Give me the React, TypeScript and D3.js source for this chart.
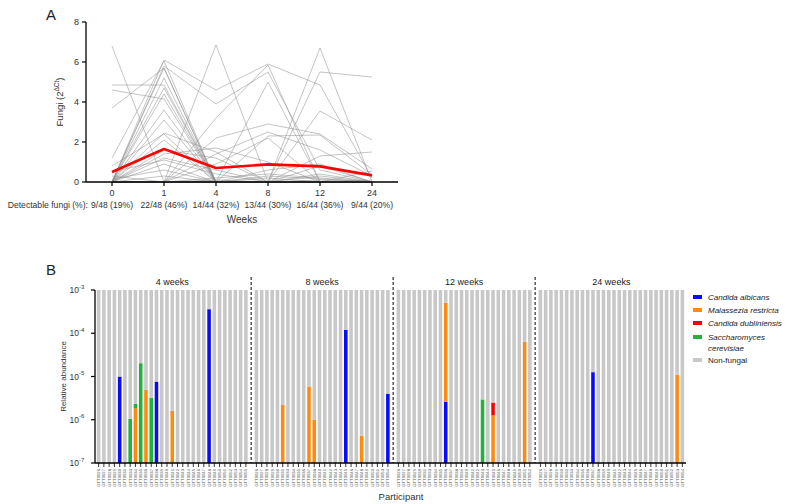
import React from "react";
import * as d3 from "d3";

// ---------- Panel A data ----------
const weeksA = ["0", "1", "4", "8", "12", "24"];
const detectableA = ["9/48 (19%)", "22/48 (46%)", "14/44 (32%)", "13/44 (30%)", "16/44 (36%)", "9/44 (20%)"];
const meanFungi = [0.5, 1.65, 0.7, 0.88, 0.78, 0.33];
// individual participants: values at weeks 0,1,4,8,12,24
const participantsA: number[][] = [
  [6.8, 0, 0, 0, 0, 0],
  [4.85, 4.85, 0, 0, 0, 0],
  [4.6, 4.15, 0, 0, 0, 0],
  [3.7, 5.7, 0, 0, 0, 0],
  [1.2, 6.05, 0, 0, 0, 0],
  [0.8, 2.4, 0, 0, 0, 0],
  [0.5, 1.1, 0.4, 0, 0, 0],
  [0.3, 0, 0, 0, 0.3, 0],
  [0.15, 0.6, 0, 0, 0, 0],
  [0, 6.1, 4.6, 5.9, 4.85, 0.2],
  [0, 5.8, 3.9, 5.5, 0.6, 0],
  [0, 5.7, 0, 0, 0, 0],
  [0, 5.2, 0, 0, 0, 0],
  [0, 4.7, 0, 0, 0, 0],
  [0, 4.4, 0, 0, 0, 0],
  [0, 3.6, 0, 0, 0, 0],
  [0, 3.1, 0, 0, 0, 0],
  [0, 2.45, 1.5, 0, 0, 0],
  [0, 2.1, 0, 0, 0, 0],
  [0, 1.6, 1.2, 0, 0, 0],
  [0, 1.4, 1.7, 1.0, 0, 0],
  [0, 1.2, 0.6, 0, 0, 0],
  [0, 0.9, 0, 0, 0, 0],
  [0, 0.3, 0, 0, 0, 0],
  [0, 0, 6.85, 0, 0, 0],
  [0, 0, 3.2, 5.85, 0, 0],
  [0, 0, 2.2, 2.9, 2.4, 0.65],
  [0, 0, 1.4, 2.5, 1.6, 0.3],
  [0, 0, 0.9, 2.2, 0, 0.1],
  [0, 0, 0.2, 0.4, 0.2, 0],
  [0, 0, 0.1, 0, 0, 0],
  [0, 0, 0, 5.0, 0, 0],
  [0, 0, 0, 2.3, 2.35, 0.35],
  [0, 0, 0, 0.6, 0.9, 0],
  [0, 0, 0, 0.3, 0.15, 0],
  [0, 0, 0, 0.2, 0, 0],
  [0, 0, 0, 0, 6.7, 0],
  [0, 0, 0, 0, 5.5, 5.25],
  [0, 0, 0, 0, 3.55, 2.1],
  [0, 0, 0, 0, 1.3, 1.5],
  [0, 0, 0, 0, 0.8, 0],
  [0, 0, 0, 0, 0.4, 0],
  [0, 0, 0, 0, 0.1, 0],
  [0, 0, 0, 0, 0, 0.55],
];
const yTicksA = [0, 2, 4, 6, 8];

// ---------- Panel B data ----------
const panelNames = ["4 weeks", "8 weeks", "12 weeks", "24 weeks"];
const ids4 = ["GTT0026","GTT0027","GTT0028","GTT0029","GTT0030","GTT0031","GTT0033","GTT0034","GTT0035","GTT0036","GTT0037","GTT0038","GTT0039","GTT0040","GTT0041","GTT0042","GTT0043","GTT0044","GTT0045","GTT0046","GTT0047","GTT0048","GTT0049","GTT0050","GTT0051","GTT0052","GTT0053","GTT0054","GTT0055"];
const ids8 = ["GTT0026","GTT0027","GTT0028","GTT0029","GTT0030","GTT0031","GTT0033","GTT0034","GTT0035","GTT0036","GTT0037","GTT0038","GTT0040","GTT0041","GTT0042","GTT0043","GTT0044","GTT0045","GTT0046","GTT0047","GTT0048","GTT0049","GTT0050","GTT0051","GTT0053","GTT0054"];
const ids12 = ["GTT0026","GTT0027","GTT0028","GTT0029","GTT0030","GTT0031","GTT0033","GTT0034","GTT0035","GTT0036","GTT0037","GTT0038","GTT0039","GTT0040","GTT0041","GTT0042","GTT0043","GTT0044","GTT0045","GTT0046","GTT0047","GTT0048","GTT0049","GTT0050","GTT0051","GTT0052"];
const ids24 = ["GTT0026","GTT0027","GTT0028","GTT0029","GTT0030","GTT0031","GTT0033","GTT0034","GTT0035","GTT0036","GTT0037","GTT0038","GTT0039","GTT0040","GTT0041","GTT0042","GTT0043","GTT0044","GTT0045","GTT0046","GTT0047","GTT0048","GTT0049","GTT0050","GTT0051","GTT0052","GTT0053","GTT0054"];
const panelIds = [ids4, ids8, ids12, ids24];

const species = ["Candida albicans", "Malassezia restricta", "Candida dubliniensis", "Saccharomyces cerevisiae", "Non-fungal"];
const speciesColors = ["#0a0aff", "#ff8a12", "#ff0000", "#22b23c", "#c8c8c8"];

// [panel, participant index, species index, relative abundance]
const fungalHits: [number, number, number, number][] = [
  [0, 4, 0, 1.0e-5],
  [0, 6, 3, 1.05e-6],
  [0, 7, 1, 1.86e-6],
  [0, 7, 3, 0.48e-6],
  [0, 8, 3, 2.03e-5],
  [0, 9, 1, 4.9e-6],
  [0, 10, 3, 3.2e-6],
  [0, 11, 0, 7.6e-6],
  [0, 14, 1, 1.6e-6],
  [0, 21, 0, 3.6e-4],
  [1, 5, 1, 2.2e-6],
  [1, 10, 1, 5.9e-6],
  [1, 11, 1, 1.0e-6],
  [1, 17, 0, 1.2e-4],
  [1, 20, 1, 4.3e-7],
  [1, 25, 0, 4.0e-6],
  [2, 9, 0, 2.6e-6],
  [2, 9, 1, 5.07e-4],
  [2, 16, 3, 2.95e-6],
  [2, 18, 1, 1.26e-6],
  [2, 18, 2, 1.24e-6],
  [2, 24, 1, 6.3e-5],
  [3, 10, 0, 1.26e-5],
  [3, 26, 1, 1.1e-5],
];
const yTicksB = [-7, -6, -5, -4, -3];

const FONT = "'Liberation Sans', Arial, Helvetica, sans-serif";

export default function App() {
  // ---------- Panel A scales ----------
  const xA = d3.scalePoint<string>().domain(weeksA).range([86, 398]).padding(0.5);
  const yA = d3.scaleLinear().domain([0, 8]).range([182, 22]);
  const lineA = d3
    .line<number>()
    .x((_, i) => xA(weeksA[i]) as number)
    .y((d) => yA(d));

  // ---------- Panel B scales ----------
  const slots: { key: string; panel: number; idx: number | null }[] = [];
  panelIds.forEach((ids, p) => {
    ids.forEach((id, i) => slots.push({ key: `${p}-${i}`, panel: p, idx: i }));
    if (p < panelIds.length - 1) slots.push({ key: `gap-${p}`, panel: p, idx: null });
  });
  const xB = d3.scaleBand<string>().domain(slots.map((s) => s.key)).range([96, 685]).paddingInner(0.32).paddingOuter(0.16);
  const yB = d3.scaleLog().domain([1e-7, 1e-3]).range([463, 290]).clamp(true);

  // build stacked segments
  const bars = slots
    .filter((s) => s.idx !== null)
    .map((s) => {
      const vals = species.slice(0, 4).map((_, k) =>
        fungalHits.filter((h) => h[0] === s.panel && h[1] === s.idx && h[2] === k).reduce((a, h) => a + h[3], 0)
      );
      const total = d3.sum(vals);
      const segs: { k: number; y0: number; y1: number }[] = [];
      let cum = 0;
      vals.forEach((v, k) => {
        if (v > 0) {
          segs.push({ k, y0: cum, y1: cum + v });
          cum += v;
        }
      });
      segs.push({ k: 4, y0: cum, y1: cum + (1 - total) });
      return { ...s, id: panelIds[s.panel][s.idx as number], segs };
    });

  const gaps = slots.filter((s) => s.idx === null);
  const panelCenters = panelIds.map((ids, p) => {
    const first = xB(`${p}-0`) as number;
    const last = (xB(`${p}-${ids.length - 1}`) as number) + xB.bandwidth();
    return (first + last) / 2;
  });

  const legendY = [297, 310, 323, 337, 360];

  return (
    <svg width={787} height={504} style={{ position: "absolute", left: 0, top: 0, background: "#fff" }} fontFamily={FONT}>
      {/* ================= Panel A ================= */}
      <text x={46} y={20} fontSize={15} fill="#222">A</text>
      {participantsA.map((p, i) => (
        <path key={i} d={lineA(p) as string} fill="none" stroke="#8a8a8a" strokeWidth={0.6} strokeOpacity={0.85} />
      ))}
      <path d={lineA(meanFungi) as string} fill="none" stroke="#ff0000" strokeWidth={2.6} strokeLinejoin="round" />
      {/* y axis */}
      <line x1={86} x2={86} y1={yA(0)} y2={yA(8)} stroke="#000" strokeWidth={1.3} />
      {yTicksA.map((t) => (
        <g key={t}>
          <line x1={82} x2={86} y1={yA(t)} y2={yA(t)} stroke="#000" strokeWidth={1.2} />
          <text x={79} y={yA(t) + 3.2} fontSize={9} textAnchor="end" fill="#333">{t}</text>
        </g>
      ))}
      <text transform={`translate(63,${(yA(0) + yA(8)) / 2}) rotate(-90)`} fontSize={9.5} textAnchor="middle" fill="#333">
        Fungi (2<tspan fontSize={6.5} dy={-4}>ΔCt</tspan><tspan dy={4}>)</tspan>
      </text>
      {/* x axis */}
      <line x1={86} x2={398} y1={yA(0)} y2={yA(0)} stroke="#000" strokeWidth={1.3} />
      {weeksA.map((w, i) => (
        <g key={w}>
          <line x1={xA(w)} x2={xA(w)} y1={yA(0)} y2={yA(0) + 4} stroke="#000" strokeWidth={1.2} />
          <text x={xA(w)} y={yA(0) + 14} fontSize={9} textAnchor="middle" fill="#333">{w}</text>
          <text x={xA(w)} y={yA(0) + 26} fontSize={8.6} textAnchor="middle" fill="#333">{detectableA[i]}</text>
        </g>
      ))}
      <text x={88} y={yA(0) + 26} fontSize={8.6} textAnchor="end" fill="#333">Detectable fungi (%):</text>
      <text x={242} y={yA(0) + 41} fontSize={10} textAnchor="middle" fill="#333">Weeks</text>

      {/* ================= Panel B ================= */}
      <text x={46} y={275} fontSize={15} fill="#222">B</text>
      {bars.map((b) =>
        b.segs.map((s) => (
          <rect
            key={`${b.key}-${s.k}`}
            x={xB(b.key)}
            width={xB.bandwidth()}
            y={yB(Math.max(s.y1, 1e-7))}
            height={Math.max(0, yB(Math.max(s.y0, 1e-7)) - yB(Math.max(s.y1, 1e-7)))}
            fill={speciesColors[s.k]}
          />
        ))
      )}
      {/* dashed separators */}
      {gaps.map((g) => {
        const x = (xB(g.key) as number) + xB.bandwidth() / 2;
        return <line key={g.key} x1={x} x2={x} y1={277} y2={463} stroke="#000" strokeWidth={1} strokeDasharray="3,2" />;
      })}
      {panelNames.map((n, p) => (
        <text key={n} x={panelCenters[p]} y={285} fontSize={9} textAnchor="middle" fill="#222">{n}</text>
      ))}
      {/* y axis */}
      <line x1={95} x2={95} y1={yB(1e-7)} y2={yB(1e-3)} stroke="#000" strokeWidth={1.3} />
      {yTicksB.map((e) => (
        <g key={e}>
          <line x1={91} x2={95} y1={yB(Math.pow(10, e))} y2={yB(Math.pow(10, e))} stroke="#000" strokeWidth={1.2} />
          <text x={79} y={yB(Math.pow(10, e)) + 3} fontSize={8.5} textAnchor="end" fill="#333">10</text>
          <text x={79} y={yB(Math.pow(10, e)) - 1.5} fontSize={6} textAnchor="start" fill="#333">{e}</text>
        </g>
      ))}
      <text transform={`translate(66,${(yB(1e-7) + yB(1e-3)) / 2}) rotate(-90)`} fontSize={8} textAnchor="middle" fill="#333">
        Relative abundance
      </text>
      {/* x axis */}
      <line x1={95} x2={686} y1={463} y2={463} stroke="#000" strokeWidth={1.3} />
      {bars.map((b) => {
        const cx = (xB(b.key) as number) + xB.bandwidth() / 2;
        return (
          <g key={`t-${b.key}`}>
            <line x1={cx} x2={cx} y1={463} y2={467} stroke="#000" strokeWidth={0.8} />
            <text transform={`translate(${cx + 1.5},469) rotate(-90)`} fontSize={4.2} textAnchor="end" fill="#555">{b.id}</text>
          </g>
        );
      })}
      <text x={401} y={500} fontSize={9.5} textAnchor="middle" fill="#333">Participant</text>

      {/* legend */}
      {species.map((s, k) => (
        <g key={s}>
          <rect x={693} y={legendY[k] - 2} width={9} height={4} fill={speciesColors[k]} />
          {k === 3 ? (
            <text x={708} y={legendY[k] + 3} fontSize={8} fontStyle="italic" fill="#222">
              <tspan x={708}>Saccharomyces</tspan>
              <tspan x={708} dy={11}>cerevisiae</tspan>
            </text>
          ) : (
            <text x={708} y={legendY[k] + 3} fontSize={8} fontStyle={k < 4 ? "italic" : "normal"} fill="#222">{s}</text>
          )}
        </g>
      ))}
    </svg>
  );
}
